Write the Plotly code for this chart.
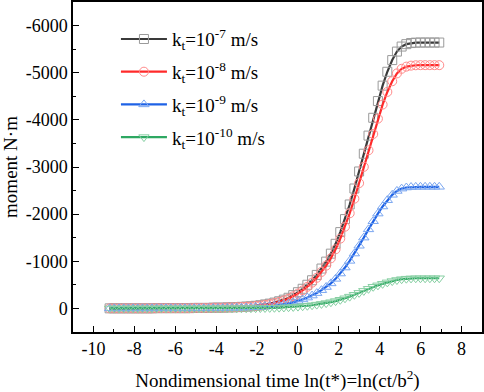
import plotly.graph_objects as go

# ln(t*) sample grid
x_vals = [-9.21, -8.98, -8.75, -8.52, -8.29, -8.06, -7.83, -7.60, -7.37, -7.14,
          -6.91, -6.68, -6.45, -6.22, -5.99, -5.76, -5.53, -5.30, -5.07, -4.84,
          -4.61, -4.37, -4.14, -3.91, -3.68, -3.45, -3.22, -2.99, -2.76, -2.53,
          -2.30, -2.07, -1.84, -1.61, -1.38, -1.15, -0.92, -0.69, -0.46, -0.23,
          0.00, 0.23, 0.46, 0.69, 0.92, 1.15, 1.38, 1.61, 1.84, 2.07,
          2.30, 2.53, 2.76, 2.99, 3.22, 3.45, 3.68, 3.91, 4.14, 4.37,
          4.61, 4.84, 5.07, 5.30, 5.53, 5.76, 5.99, 6.22, 6.45, 6.68, 6.91]

m_k7 = [-2, -2, -2, -2, -2, -2, -2, -2, -2, -2,
        -6, -6, -6, -6, -6, -6, -6, -6, -11, -11,
        -11, -11, -17, -17, -17, -23, -23, -28, -34, -39,
        -45, -56, -68, -85, -102, -124, -152, -186, -226, -282,
        -344, -417, -502, -598, -711, -846, -993, -1162, -1371, -1619,
        -1895, -2205, -2544, -2905, -3282, -3666, -4044, -4399, -4726, -5020,
        -5268, -5448, -5555, -5606, -5629, -5638, -5640, -5640, -5640, -5640, -5640]

m_k8 = [-2, -2, -2, -2, -2, -2, -2, -2, -2, -2,
        -5, -5, -5, -5, -5, -5, -5, -5, -10, -10,
        -10, -10, -15, -15, -15, -21, -21, -26, -31, -36,
        -41, -52, -62, -77, -93, -114, -139, -170, -206, -258,
        -315, -382, -459, -547, -650, -774, -908, -1063, -1254, -1481,
        -1734, -2018, -2327, -2657, -3003, -3354, -3700, -4025, -4324, -4592,
        -4819, -4985, -5083, -5129, -5150, -5158, -5160, -5160, -5160, -5160, -5160]

m_k9 = [-1, -1, -1, -1, -1, -1, -1, -1, -1, -1,
        -3, -3, -3, -3, -3, -3, -3, -3, -5, -5,
        -5, -5, -8, -8, -8, -10, -10, -13, -15, -18,
        -21, -26, -31, -39, -46, -57, -70, -85, -103, -129,
        -157, -191, -230, -273, -325, -387, -454, -531, -627, -740,
        -867, -1009, -1164, -1329, -1502, -1677, -1850, -2012, -2162, -2296,
        -2410, -2492, -2541, -2565, -2575, -2579, -2580, -2580, -2580, -2580, -2580]

m_k10 = [0, 0, 0, 0, 0, 0, 0, 0, 0, 0,
         -1, -1, -1, -1, -1, -1, -1, -1, -1, -1,
         -1, -1, -2, -2, -2, -3, -3, -3, -4, -4,
         -5, -6, -8, -10, -12, -14, -17, -21, -26, -32,
         -39, -47, -57, -68, -81, -96, -113, -132, -156, -184,
         -215, -250, -289, -330, -372, -416, -459, -490, -522, -553,
         -580, -603, -620, -631, -637, -640, -640, -640, -640, -640, -640]

series_names = ["k<sub>t</sub>=10<sup>-7</sup> m/s", "k<sub>t</sub>=10<sup>-8</sup> m/s",
                "k<sub>t</sub>=10<sup>-9</sup> m/s", "k<sub>t</sub>=10<sup>-10</sup> m/s"]

x_ticks = [-10, -8, -6, -4, -2, 0, 2, 4, 6, 8]
y_ticks = [0, -1000, -2000, -3000, -4000, -5000, -6000]
y_ticktext = ["0", "-1000", "-2000", "-3000", "-4000", "-5000", "-6000"]
x_ticktext = ["-10", "-8", "-6", "-4", "-2", "0", "2", "4", "6", "8"]

styles = [
    dict(line="#3a3a3a", mk="#9a9a9a", sym="square-open"),
    dict(line="#ff2a2a", mk="#ff8a8a", sym="circle-open"),
    dict(line="#1e62e6", mk="#7aa6f0", sym="triangle-up-open"),
    dict(line="#2ea862", mk="#86cfa2", sym="triangle-down-open"),
]

FONT = "Liberation Serif, Times New Roman, serif"

fig = go.Figure()
for i, (ys, name) in enumerate(zip([m_k7, m_k8, m_k9, m_k10], series_names)):
    st = styles[i]
    fig.add_trace(go.Scatter(
        x=x_vals, y=ys, name=name, mode="lines+markers",
        legendgroup=f"g{i}",
        line=dict(color=st["line"], width=2.2),
        marker=dict(symbol=st["sym"], size=9, color=st["mk"],
                    line=dict(width=1, color=st["mk"])),
    ))

fig.update_layout(
    width=484, height=392, autosize=False,
    margin=dict(l=73, r=2, t=2, b=60),
    paper_bgcolor="white", plot_bgcolor="white",
    font=dict(family=FONT, size=18, color="black"),
    showlegend=True,
    legend=dict(x=0.105, y=0.945, xanchor="left", yanchor="top",
                bgcolor="rgba(0,0,0,0)", font=dict(family=FONT, size=19),
                itemwidth=46, tracegroupgap=5, traceorder="grouped"),
)

fig.update_xaxes(
    range=[-11, 9], tickvals=x_ticks, ticktext=x_ticktext,
    ticks="inside", ticklen=6, tickwidth=1.3, tickcolor="black",
    minor=dict(dtick=1, tick0=-11, ticks="inside", ticklen=3, tickwidth=1.3, tickcolor="black"),
    showline=True, linecolor="black", linewidth=1.5, mirror=True,
    showgrid=False, zeroline=False, automargin=False,
    title=dict(text="Nondimensional time ln(t*)=ln(ct/b<sup>2</sup>)", font=dict(size=19)),
    tickfont=dict(size=18),
)
fig.update_yaxes(
    range=[500, -6500], tickvals=y_ticks, ticktext=y_ticktext,
    ticks="inside", ticklen=6, tickwidth=1.3, tickcolor="black",
    minor=dict(dtick=500, tick0=500, ticks="inside", ticklen=3, tickwidth=1.3, tickcolor="black"),
    showline=True, linecolor="black", linewidth=1.5, mirror=True,
    showgrid=False, zeroline=False, automargin=False,
    title=dict(text="moment N·m", font=dict(size=19)),
    tickfont=dict(size=18),
)

fig.write_html(
    "out.html",
    config={"responsive": False, "displayModeBar": False},
    post_script="document.body.style.margin='0';document.body.style.overflow='hidden';",
)
